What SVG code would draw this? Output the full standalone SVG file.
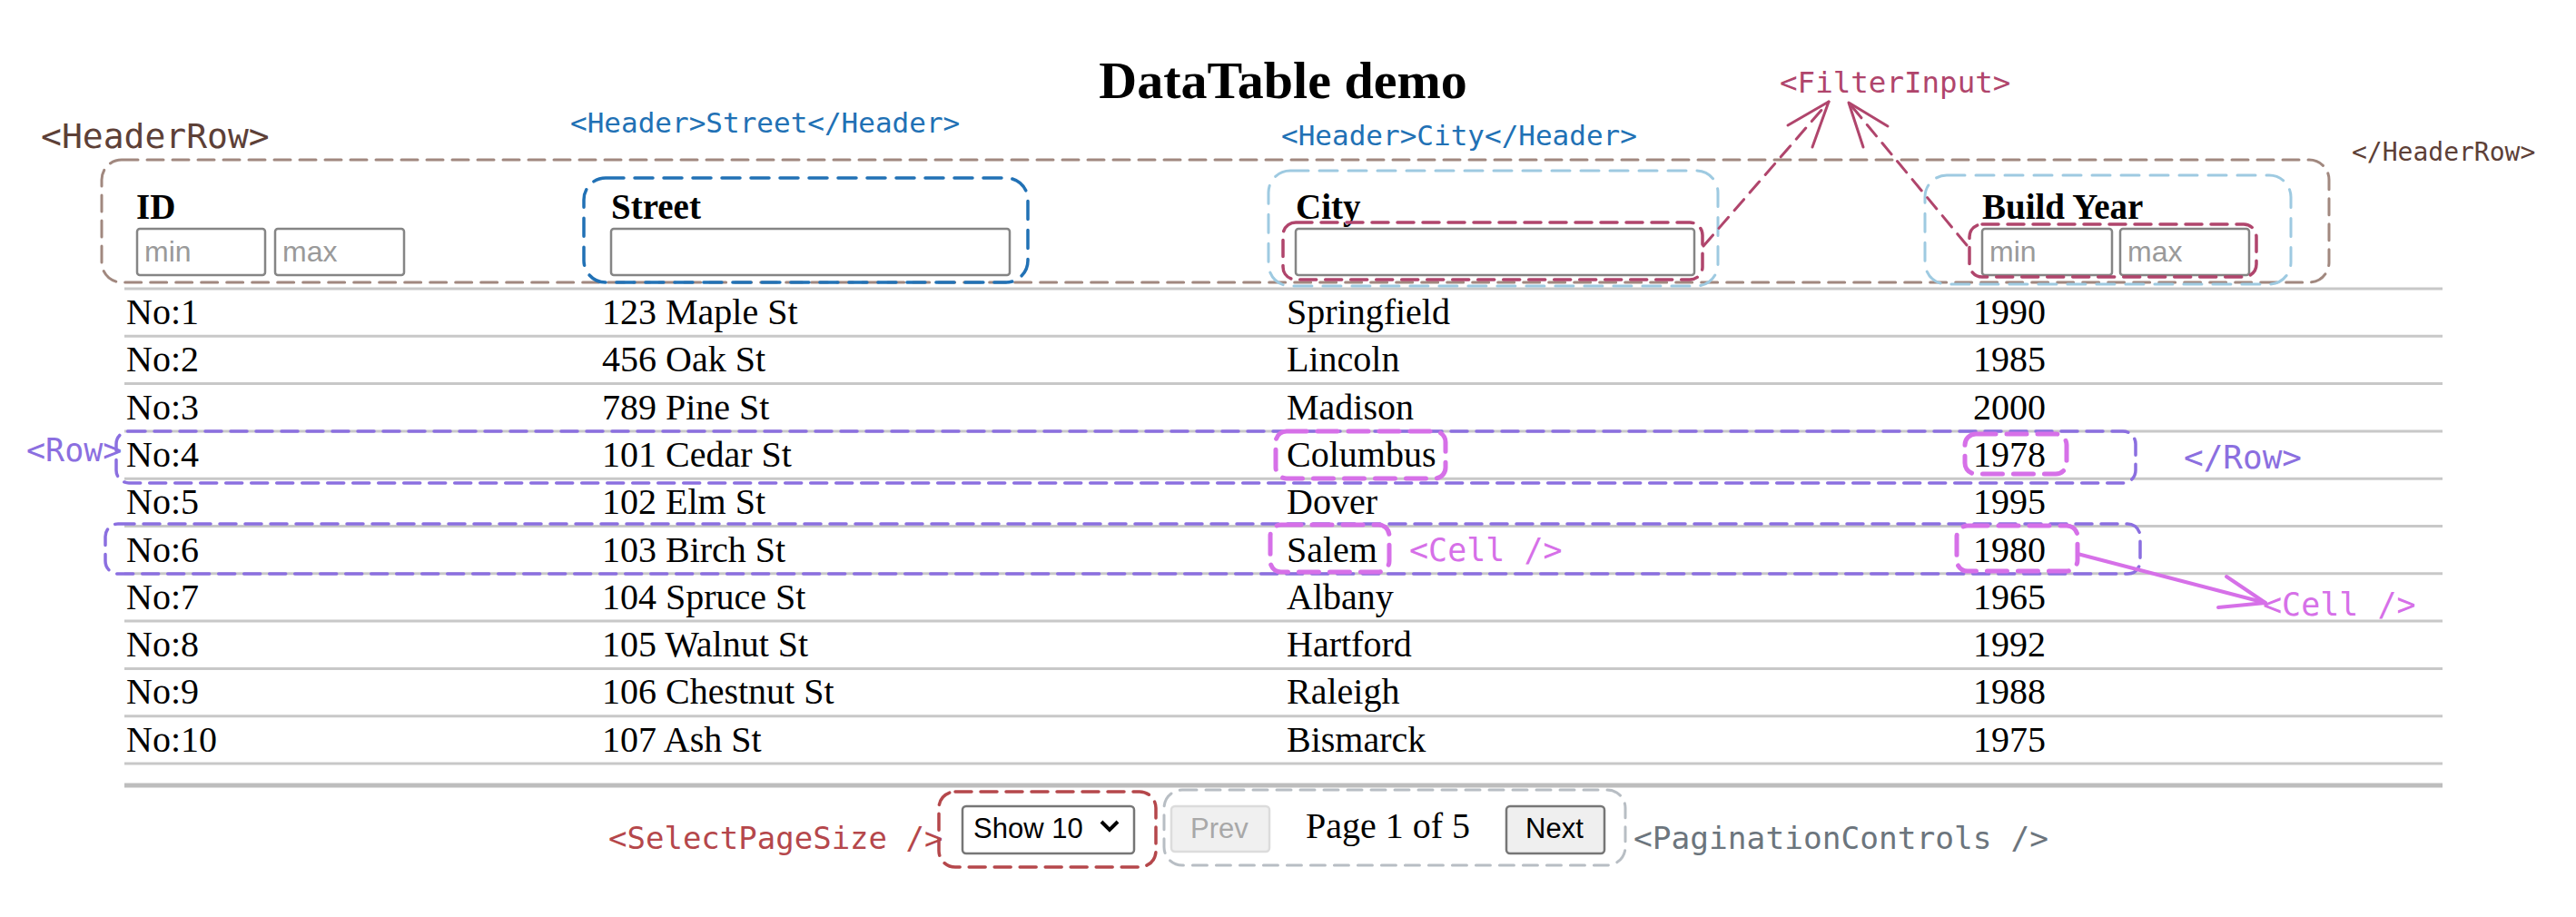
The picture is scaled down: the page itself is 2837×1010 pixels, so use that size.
<svg xmlns="http://www.w3.org/2000/svg" width="2837" height="1010" viewBox="0 0 2837 1010">
<style>
.serif{font-family:"Liberation Serif","Times New Roman",serif;fill:#000}
.cell{font-size:40px}
.hdr{font-size:39px;font-weight:bold}
.mono{font-family:"DejaVu Sans Mono","Liberation Mono",monospace}
.ph{font-family:"Liberation Sans",Arial,sans-serif;font-size:32px;fill:#9a9a9a}
.input{fill:#fff;stroke:#858585;stroke-width:2.5}
.grid{stroke:#c8c8c8;stroke-width:3}
.box{fill:none;stroke-linecap:round}
</style>
<rect width="2837" height="1010" fill="#fff"/>
<text id="title" class="serif" x="1413" y="108" font-size="58" font-weight="bold" text-anchor="middle">DataTable demo</text>

<g id="table-grid">
<line class="grid" x1="137" y1="318" x2="2690" y2="318"/>
<line class="grid" x1="137" y1="370.3" x2="2690" y2="370.3"/>
<line class="grid" x1="137" y1="422.6" x2="2690" y2="422.6"/>
<line class="grid" x1="137" y1="474.9" x2="2690" y2="474.9"/>
<line class="grid" x1="137" y1="527.2" x2="2690" y2="527.2"/>
<line class="grid" x1="137" y1="579.5" x2="2690" y2="579.5"/>
<line class="grid" x1="137" y1="631.8" x2="2690" y2="631.8"/>
<line class="grid" x1="137" y1="684.1" x2="2690" y2="684.1"/>
<line class="grid" x1="137" y1="736.4" x2="2690" y2="736.4"/>
<line class="grid" x1="137" y1="788.7" x2="2690" y2="788.7"/>
<line class="grid" x1="137" y1="841" x2="2690" y2="841"/>
<line x1="137" y1="865" x2="2690" y2="865" stroke="#bdbdbd" stroke-width="5"/>
</g>

<g id="header-cells">
<text class="serif hdr" x="150" y="241">ID</text>
<text class="serif hdr" x="673" y="241">Street</text>
<text class="serif hdr" x="1427" y="241">City</text>
<text class="serif hdr" x="2183" y="241">Build Year</text>
<rect class="input" x="151" y="252" width="141" height="51" rx="3"/>
<text class="ph" x="159" y="288">min</text>
<rect class="input" x="303" y="252" width="142" height="51" rx="3"/>
<text class="ph" x="311" y="288">max</text>
<rect class="input" x="673" y="252" width="439" height="51" rx="3"/>
<rect class="input" x="1427" y="252" width="439" height="51" rx="3"/>
<rect class="input" x="2183" y="252" width="143" height="51" rx="3"/>
<text class="ph" x="2191" y="288">min</text>
<rect class="input" x="2335" y="252" width="142" height="51" rx="3"/>
<text class="ph" x="2343" y="288">max</text>
</g>

<g id="table-body" class="serif cell">
<text x="139" y="357">No:1</text><text x="663" y="357">123 Maple St</text><text x="1417" y="357">Springfield</text><text x="2173" y="357">1990</text>
<text x="139" y="409.3">No:2</text><text x="663" y="409.3">456 Oak St</text><text x="1417" y="409.3">Lincoln</text><text x="2173" y="409.3">1985</text>
<text x="139" y="461.6">No:3</text><text x="663" y="461.6">789 Pine St</text><text x="1417" y="461.6">Madison</text><text x="2173" y="461.6">2000</text>
<text x="139" y="513.9">No:4</text><text x="663" y="513.9">101 Cedar St</text><text x="1417" y="513.9">Columbus</text><text x="2173" y="513.9">1978</text>
<text x="139" y="566.2">No:5</text><text x="663" y="566.2">102 Elm St</text><text x="1417" y="566.2">Dover</text><text x="2173" y="566.2">1995</text>
<text x="139" y="618.5">No:6</text><text x="663" y="618.5">103 Birch St</text><text x="1417" y="618.5">Salem</text><text x="2173" y="618.5">1980</text>
<text x="139" y="670.8">No:7</text><text x="663" y="670.8">104 Spruce St</text><text x="1417" y="670.8">Albany</text><text x="2173" y="670.8">1965</text>
<text x="139" y="723.1">No:8</text><text x="663" y="723.1">105 Walnut St</text><text x="1417" y="723.1">Hartford</text><text x="2173" y="723.1">1992</text>
<text x="139" y="775.4">No:9</text><text x="663" y="775.4">106 Chestnut St</text><text x="1417" y="775.4">Raleigh</text><text x="2173" y="775.4">1988</text>
<text x="139" y="827.7">No:10</text><text x="663" y="827.7">107 Ash St</text><text x="1417" y="827.7">Bismarck</text><text x="2173" y="827.7">1975</text>
</g>

<g id="pagination-ui">
<rect x="1060" y="888" width="189" height="52" rx="4" fill="#fff" stroke="#767676" stroke-width="2.5"/>
<text x="1072" y="923" font-family="Liberation Sans,Arial,sans-serif" font-size="31" fill="#000">Show 10</text>
<path d="M1213,905 l9,9 l9,-9" fill="none" stroke="#000" stroke-width="4"/>
<rect x="1290" y="888" width="108" height="50" rx="4" fill="#f0f0f0" stroke="#dcdcdc" stroke-width="2.5"/>
<text x="1311" y="923" font-family="Liberation Sans,Arial,sans-serif" font-size="31" fill="#a8a8a8">Prev</text>
<text class="serif cell" x="1438" y="923">Page 1 of 5</text>
<rect x="1659" y="888" width="108" height="52" rx="4" fill="#efefef" stroke="#767676" stroke-width="2.5"/>
<text x="1680" y="923" font-family="Liberation Sans,Arial,sans-serif" font-size="31" fill="#000">Next</text>
</g>

<g id="header-row">
<rect class="box" x="112" y="176" width="2453" height="135" rx="22" stroke="#a1887f" stroke-width="3" stroke-dasharray="18 10"/>
<text class="mono" x="45" y="163" font-size="38" fill="#5d4037">&lt;HeaderRow&gt;</text>
<text class="mono" x="2590" y="177" font-size="28" fill="#5d4037">&lt;/HeaderRow&gt;</text>
</g>

<g id="header-street">
<rect class="box" x="643" y="196" width="489" height="115" rx="24" stroke="#2171b5" stroke-width="3.5" stroke-dasharray="20 12"/>
<text class="mono" x="628" y="146" font-size="31" fill="#2171b5">&lt;Header&gt;Street&lt;/Header&gt;</text>
</g>

<g id="header-city">
<rect class="box" x="1397" y="188" width="495" height="127" rx="24" stroke="#9ecae1" stroke-width="3" stroke-dasharray="20 12"/>
<text class="mono" x="1411" y="160" font-size="31" fill="#2171b5">&lt;Header&gt;City&lt;/Header&gt;</text>
</g>

<g id="header-buildyear">
<rect class="box" x="2120" y="193" width="403" height="120" rx="24" stroke="#9ecae1" stroke-width="3" stroke-dasharray="20 12"/>
</g>

<g id="filter-input">
<rect class="box" x="1413" y="245" width="462" height="63" rx="14" stroke="#b0456c" stroke-width="3.5" stroke-dasharray="18 10"/>
<rect class="box" x="2169" y="247" width="316" height="58" rx="14" stroke="#b0456c" stroke-width="3.5" stroke-dasharray="18 10"/>
<text class="mono" x="1960" y="102" font-size="32.5" fill="#b0456c">&lt;FilterInput&gt;</text>
</g>

<g id="rows">
<rect class="box" x="128" y="475" width="2224" height="57" rx="14" stroke="#8b6fe0" stroke-width="3.5" stroke-dasharray="18 10"/>
<rect class="box" x="116" y="577" width="2241" height="55" rx="14" stroke="#8b6fe0" stroke-width="3.5" stroke-dasharray="18 10"/>
<text class="mono" x="29" y="508" font-size="35" fill="#8b6fe0">&lt;Row&gt;</text>
<text class="mono" x="2405" y="516" font-size="36" fill="#8b6fe0">&lt;/Row&gt;</text>
</g>

<g id="cells">
<rect class="box" x="1405" y="475" width="187" height="52" rx="12" stroke="#d670e8" stroke-width="5" stroke-dasharray="22 12"/>
<rect class="box" x="2164" y="478" width="112" height="44" rx="12" stroke="#d670e8" stroke-width="5" stroke-dasharray="22 12"/>
<rect class="box" x="1399" y="578" width="131" height="52" rx="12" stroke="#d670e8" stroke-width="5" stroke-dasharray="22 12"/>
<rect class="box" x="2155" y="579" width="133" height="50" rx="12" stroke="#d670e8" stroke-width="5" stroke-dasharray="22 12"/>
<text class="mono" x="1552" y="618" font-size="35" fill="#d670e8">&lt;Cell /&gt;</text>
<text class="mono" x="2492" y="678" font-size="35" fill="#d670e8">&lt;Cell /&gt;</text>
</g>

<g id="select-page-size">
<rect class="box" x="1034" y="872" width="239" height="83" rx="18" stroke="#b5474b" stroke-width="3.5" stroke-dasharray="18 10"/>
<text class="mono" x="670" y="935" font-size="34" fill="#b5474b">&lt;SelectPageSize /&gt;</text>
</g>

<g id="pagination-controls">
<rect class="box" x="1282" y="870" width="508" height="83" rx="20" stroke="#b8bec4" stroke-width="3" stroke-dasharray="16 10"/>
<text class="mono" x="1799" y="935" font-size="34.5" fill="#6c757d">&lt;PaginationControls /&gt;</text>
</g>

<g id="connectors" fill="none" stroke-linecap="round" stroke-linejoin="round">
<path d="M1876,271 L2014,112" stroke="#b0456c" stroke-width="3" stroke-dasharray="16 10"/>
<path d="M1969,138 L2014,112 L1996,162" stroke="#b0456c" stroke-width="3"/>
<path d="M2166,270 L2036,113" stroke="#b0456c" stroke-width="3" stroke-dasharray="16 10"/>
<path d="M2079,139 L2036,113 L2052,162" stroke="#b0456c" stroke-width="3"/>
<path d="M2288,610 L2495,664" stroke="#d670e8" stroke-width="4"/>
<path d="M2452,635 L2495,664 L2443,669" stroke="#d670e8" stroke-width="4"/>
</g>
</svg>
